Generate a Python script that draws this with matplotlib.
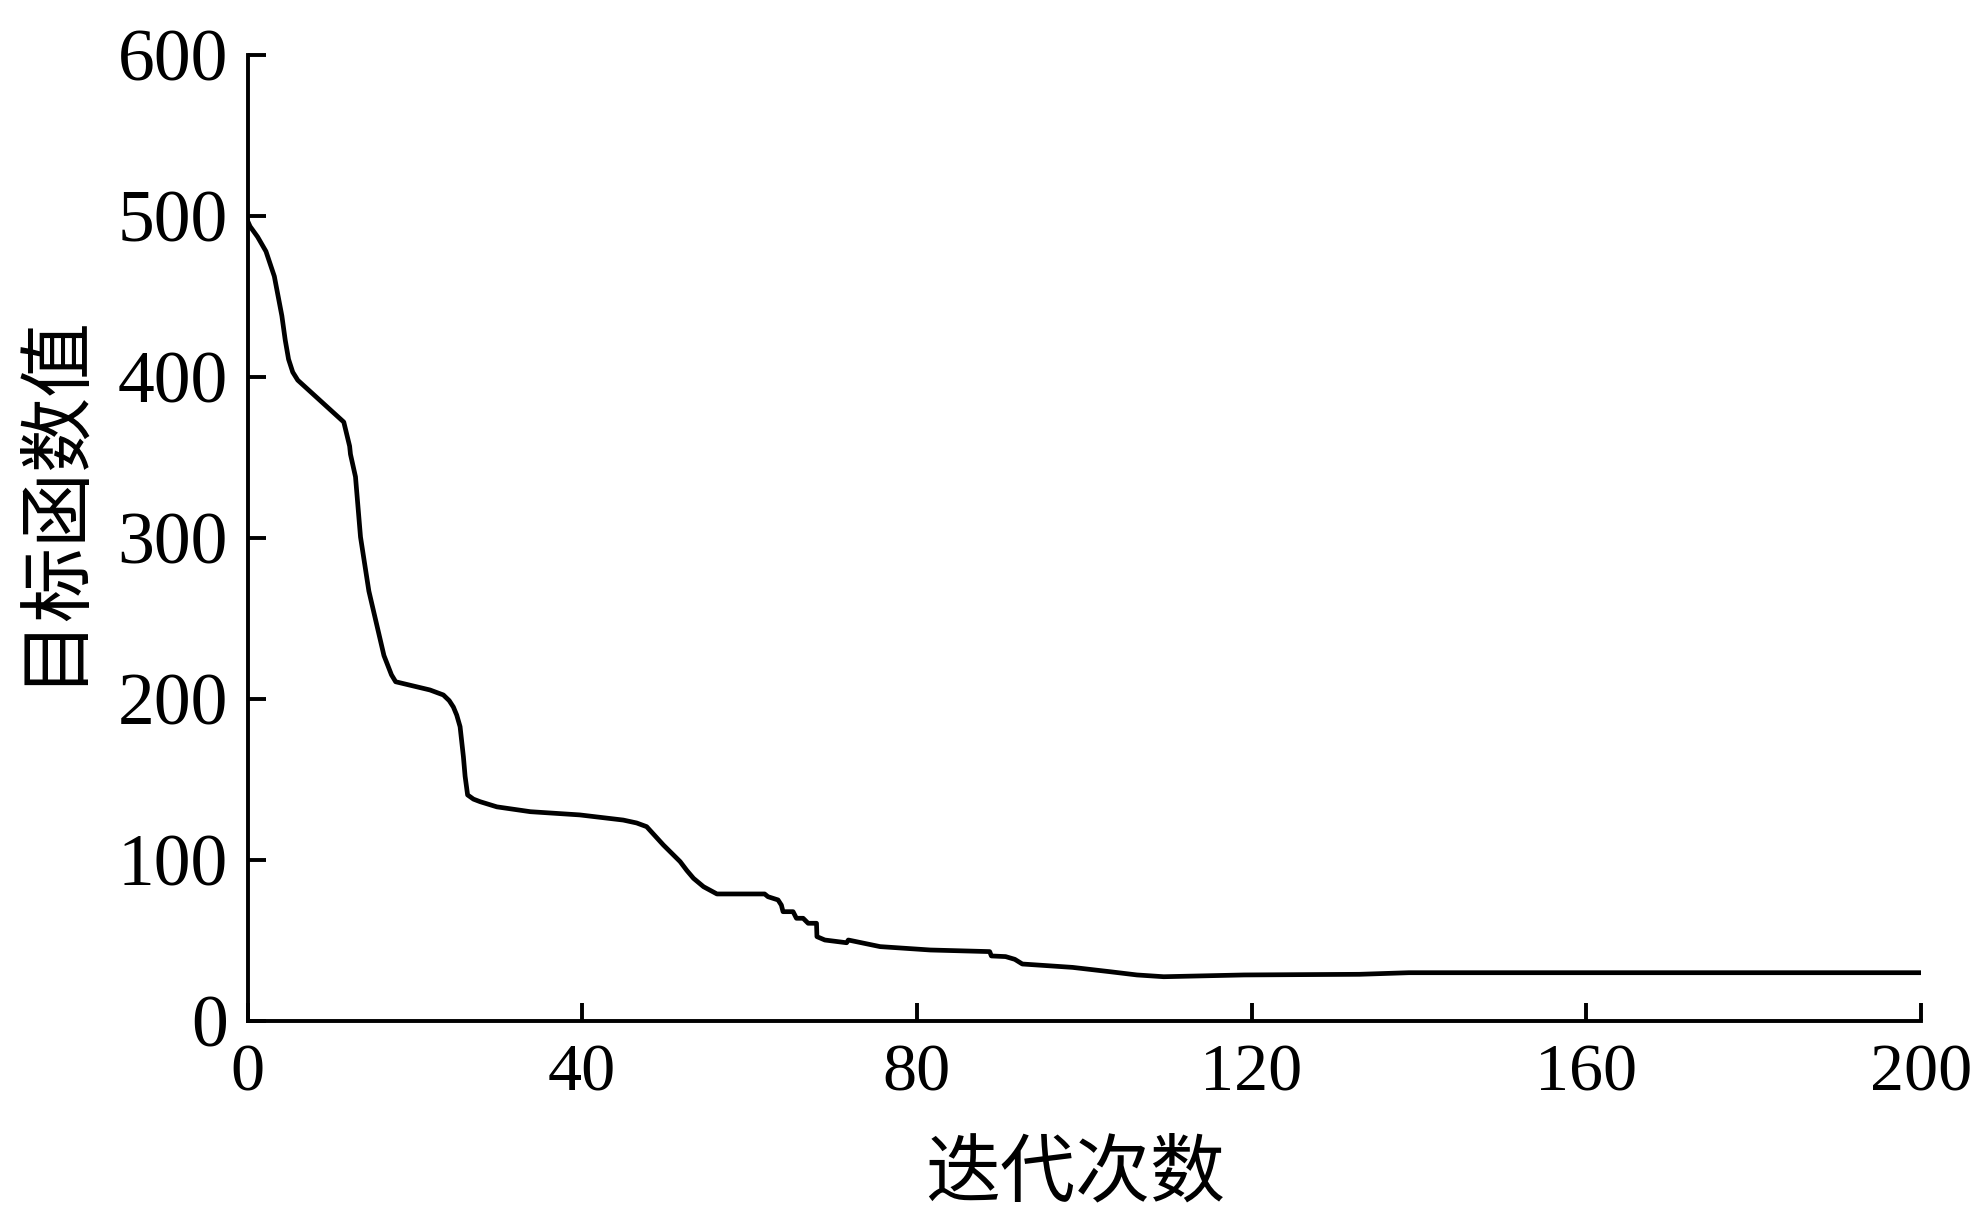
import matplotlib.pyplot as plt

# 收敛曲线
iters = [0, 0.3, 1.2, 2.2, 3.2, 4.1, 4.5, 4.9, 5.4, 6.0, 11.5, 12.2, 12.3, 12.9, 13.5, 14.5,
         16.3, 17.2, 17.7, 21.8, 23.4, 24.1, 24.6, 25.0, 25.4, 25.8, 26.0, 26.3, 27.0, 27.8,
         29.8, 33.8, 39.7, 44.9, 46.5, 47.7, 49.7, 51.7, 52.5, 53.3, 54.5, 56.1, 61.8, 62.2,
         63.4, 63.8, 64.0, 65.2, 65.6, 66.4, 67.0, 68.0, 68.05, 69.0, 71.6, 71.8, 75.6,
         81.6, 88.7, 88.9, 90.6, 91.7, 92.6, 94.9, 98.6, 103.1, 106.3, 109.5, 119.1,
         132.9, 138.8, 150, 175, 200]
obj = [497, 493.5, 487, 478, 462.5, 438, 423, 411, 403, 398, 372, 357, 352, 338, 300.6, 267,
       227, 215, 210.7, 205.6, 202.5, 199, 195, 190, 182.8, 164, 152, 140.4, 137.8, 136.2,
       133, 130, 128, 124.8, 123, 120.7, 109.3, 99, 93.5, 88.6, 83.4, 78.9, 78.9, 77.2,
       75.2, 72, 67.9, 67.9, 63.8, 63.8, 60.7, 60.7, 52.4, 50.3, 48.6, 50.3, 46.2,
       44.1, 43.1, 40.4, 40, 38.3, 35.4, 34.6, 33.3, 30.6, 28.6, 27.5, 28.6,
       29, 30, 30, 30, 30]

xticks = [0, 40, 80, 120, 160, 200]
yticks = [0, 100, 200, 300, 400, 500, 600]

fig = plt.figure(figsize=(19.71, 12.21), dpi=100)
ax = fig.add_axes([0.1256, 0.1638, 0.849, 0.7912])

ax.plot(iters, obj, color="black", linewidth=3.4, solid_joinstyle="round")

ax.set_xlim(0, 200)
ax.set_ylim(0, 600)
ax.set_xticks(xticks)
ax.set_yticks(yticks)

for s in ["top", "right"]:
    ax.spines[s].set_visible(False)
for s in ["left", "bottom"]:
    ax.spines[s].set_linewidth(2.8)

ax.tick_params(direction="in", length=13, width=2.8)
ax.tick_params(axis="y", pad=14)
ax.tick_params(axis="x", pad=16)
for lab in ax.get_yticklabels():
    lab.set_fontfamily("Liberation Serif")
    lab.set_fontsize(53)
for lab in ax.get_xticklabels():
    lab.set_fontfamily("Liberation Serif")
    lab.set_fontsize(49)

cjk = ["Noto Sans CJK SC", "DejaVu Sans"]
ax.set_xlabel("迭代次数", fontfamily=cjk, fontsize=54, va="center", ha="center")
ax.set_ylabel("目标函数值", fontfamily=cjk, fontsize=54, va="center", ha="center")
ax.xaxis.set_label_coords(0.4946, -0.158)
ax.yaxis.set_label_coords(-0.118, 0.542)

fig.savefig("out.png", dpi=100)
